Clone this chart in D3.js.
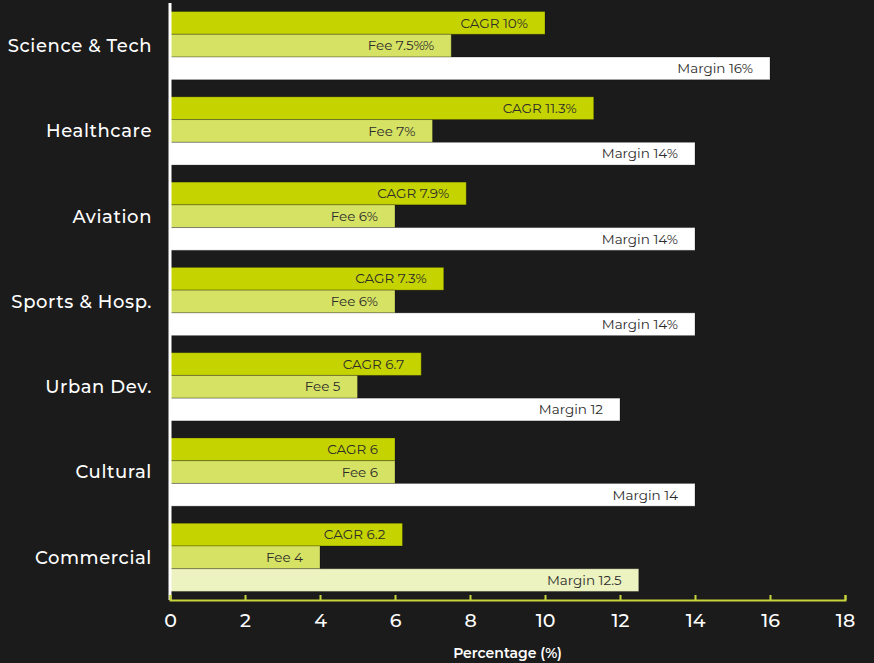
<!DOCTYPE html>
<html>
<head>
<meta charset="utf-8">
<script src="https://cdn.jsdelivr.net/npm/d3@7"></script>
<style>
  body { margin: 0; background: #1b1b1b; }
  svg { display: block; font-family: "Montserrat", "Noto Sans", sans-serif; }
</style>
</head>
<body>
<div id="chart"></div>
<script>
// data
const categories = ["Science & Tech", "Healthcare", "Aviation", "Sports & Hosp.", "Urban Dev.", "Cultural", "Commercial"];
const cagr   = [10, 11.3, 7.9, 7.3, 6.7, 6, 6.2];
const fee    = [7.5, 7, 6, 6, 5, 6, 4];
const margin = [16, 14, 14, 14, 12, 14, 12.5];
const cagrLabels   = ["CAGR 10%", "CAGR 11.3%", "CAGR 7.9%", "CAGR 7.3%", "CAGR 6.7", "CAGR 6", "CAGR 6.2"];
const feeLabels    = ["Fee 7.5%%", "Fee 7%", "Fee 6%", "Fee 6%", "Fee 5", "Fee 6", "Fee 4"];
const marginLabels = ["Margin 16%", "Margin 14%", "Margin 14%", "Margin 14%", "Margin 12", "Margin 14", "Margin 12.5"];
const xTicks = [0, 2, 4, 6, 8, 10, 12, 14, 16, 18];

const series = ["cagr", "fee", "margin"];
const seriesColor = {cagr: "#c5d400", fee: "#d6e264", margin: "#ffffff"};
const lastMarginColor = "#ecf3c0";

const W = 874, H = 663;
const m = {top: 3, left: 170, right: 29, bottom: 63};
const w = W - m.left - m.right, h = H - m.top - m.bottom;

const svg = d3.select("#chart").append("svg")
    .attr("width", W).attr("height", H);
svg.append("rect").attr("width", W).attr("height", H).attr("fill", "#1b1b1b");

const g = svg.append("g").attr("transform", `translate(${m.left},${m.top})`);

const x = d3.scaleLinear().domain([0, 18]).range([0, w]);
const y = d3.scaleBand().domain(categories).range([0, h]).paddingInner(0.2).paddingOuter(0.1);
const ySub = d3.scaleBand().domain(series).range([0, y.bandwidth()]);

const rows = categories.map((c, i) => ({
  cat: c,
  vals: [
    {key: "cagr", v: cagr[i], label: cagrLabels[i], color: seriesColor.cagr},
    {key: "fee", v: fee[i], label: feeLabels[i], color: seriesColor.fee},
    {key: "margin", v: margin[i], label: marginLabels[i],
      color: i === categories.length - 1 ? lastMarginColor : seriesColor.margin}
  ]
}));

const grp = g.selectAll(".grp").data(rows).join("g")
    .attr("class", "grp")
    .attr("transform", d => `translate(0,${y(d.cat)})`);

grp.selectAll("rect").data(d => d.vals).join("rect")
    .attr("x", x(0))
    .attr("y", d => ySub(d.key))
    .attr("width", d => x(d.v) - x(0))
    .attr("height", ySub.bandwidth())
    .attr("fill", d => d.color)
    .attr("stroke", "rgba(0,0,0,0.25)")
    .attr("stroke-width", 1);

grp.selectAll("text").data(d => d.vals).join("text")
    .attr("x", d => x(d.v) - 17)
    .attr("y", d => ySub(d.key) + ySub.bandwidth() / 2)
    .attr("dy", "0.35em")
    .attr("text-anchor", "end")
    .attr("font-size", 13.5)
    .attr("fill", "#2b2b2b")
    .text(d => d.label);

// category labels
g.append("g").selectAll("text").data(categories).join("text")
    .attr("x", -18)
    .attr("y", d => y(d) + y.bandwidth() / 2)
    .attr("dy", "0.35em")
    .attr("text-anchor", "end")
    .attr("font-size", 18)
    .attr("font-weight", 500)
    .attr("letter-spacing", "0.6px")
    .attr("fill", "#ffffff")
    .text(d => d);

// y axis line
g.append("line")
    .attr("x1", 0).attr("x2", 0)
    .attr("y1", 0).attr("y2", h)
    .attr("stroke", "#ffffff").attr("stroke-width", 3);

// x axis
const xAxis = g.append("g")
    .attr("transform", `translate(0,${h})`)
    .call(d3.axisBottom(x).tickValues(xTicks).tickSize(-5).tickSizeOuter(-5).tickPadding(14));
xAxis.select(".domain").attr("stroke", "#c8d43c").attr("stroke-width", 2);
xAxis.selectAll(".tick line").attr("stroke", "#c8d43c").attr("stroke-width", 2);
xAxis.selectAll(".tick text")
    .attr("fill", "#ffffff")
    .attr("font-size", 19)
    .attr("font-weight", 500)
    .attr("font-family", "Montserrat, 'Noto Sans', sans-serif");

g.append("text")
    .attr("x", w / 2)
    .attr("y", h + 58)
    .attr("text-anchor", "middle")
    .attr("font-size", 14)
    .attr("font-weight", 600)
    .attr("fill", "#ffffff")
    .text("Percentage (%)");
</script>
</body>
</html>
